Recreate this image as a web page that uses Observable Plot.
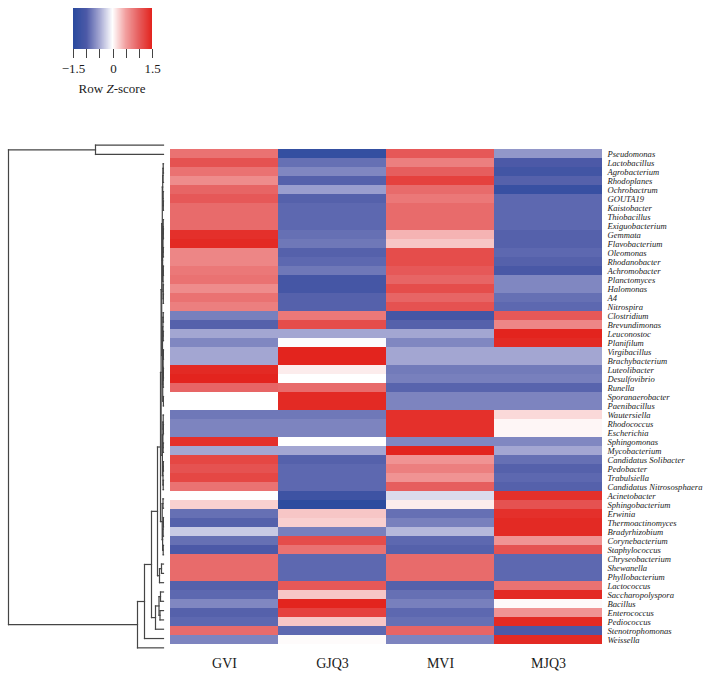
<!DOCTYPE html>
<html><head><meta charset="utf-8">
<script src="https://cdn.jsdelivr.net/npm/d3@7"></script>
<script src="https://cdn.jsdelivr.net/npm/@observablehq/plot@0.6"></script>
<style>
body{margin:0;background:#fff;}
#wrap{position:relative;width:704px;height:678px;overflow:hidden;font-family:"Liberation Serif","Times New Roman",serif;color:#1a1a1a;}
#wrap > svg{position:absolute;left:0;top:0;}
#wrap svg text{font-family:"Liberation Serif","Times New Roman",serif;}
#zlabel{position:absolute;top:82px;left:62px;width:100px;text-align:center;font-size:13px;line-height:14px;color:#1a1a1a;}
.heat [aria-label="y-axis tick label"] text{font-style:italic;}
</style></head><body><div id="wrap"><div id="zlabel">Row <i>Z</i>-score</div></div>
<script>
const samples = ["GVI","GJQ3","MVI","MJQ3"];
const genera = ["Pseudomonas","Lactobacillus","Agrobacterium","Rhodoplanes","Ochrobactrum","GOUTA19","Kaistobacter","Thiobacillus","Exiguobacterium","Gemmata","Flavobacterium","Oleomonas","Rhodanobacter","Achromobacter","Planctomyces","Halomonas","A4","Nitrospira","Clostridium","Brevundimonas","Leuconostoc","Planifilum","Virgibacillus","Brachybacterium","Luteolibacter","Desulfovibrio","Runella","Sporanaerobacter","Paenibacillus","Wautersiella","Rhodococcus","Escherichia","Sphingomonas","Mycobacterium","Candidatus Solibacter","Pedobacter","Trabulsiella","Candidatus Nitrososphaera","Acinetobacter","Sphingobacterium","Erwinia","Thermoactinomyces","Bradyrhizobium","Corynebacterium","Staphylococcus","Chryseobacterium","Shewanella","Phyllobacterium","Lactococcus","Saccharopolyspora","Bacillus","Enterococcus","Pediococcus","Stenotrophomonas","Weissella"];
const GVI  = [0.85,1.1,0.85,0.65,0.95,1.05,0.9,0.9,0.9,1.4,1.45,0.7,0.7,0.8,0.85,0.65,0.85,0.75,-0.75,-0.95,-0.5,-0.7,-0.5,-0.5,1.45,1.5,0.95,0.0,0.0,-0.8,-0.72,-0.72,1.4,-0.5,1.2,1.1,1.2,0.85,0.0,0.25,-0.85,-0.95,-0.3,-0.85,-1.0,0.9,0.9,0.9,-0.95,-0.9,-0.7,-0.95,-0.9,0.9,-0.72];
const GJQ3 = [-1.35,-0.85,-0.7,-0.95,-0.55,-0.95,-0.9,-0.9,-0.9,-0.85,-0.8,-0.95,-0.9,-0.8,-1.1,-1.1,-0.95,-0.95,0.8,1.15,-0.5,-0.02,1.5,1.5,0.1,0.0,0.9,1.45,1.45,-0.8,-0.72,-0.72,0.0,-0.5,-0.95,-0.9,-0.9,-0.9,-1.2,-1.45,0.3,0.25,-0.75,1.15,0.85,-0.9,-0.9,-0.9,1.05,0.3,1.5,1.25,0.3,-0.9,0.02];
const MVI  = [1.05,0.75,1.0,1.25,0.9,0.8,0.9,0.9,0.9,0.4,0.3,1.15,1.15,1.05,0.95,1.15,0.95,1.1,-1.1,-0.95,-0.5,-0.7,-0.5,-0.5,-0.78,-0.75,-0.93,-0.72,-0.72,1.4,1.4,1.4,-0.7,1.5,0.6,0.75,0.6,1.0,-0.2,0.1,-0.85,-0.75,-0.4,-0.9,-0.95,0.9,0.9,0.9,-0.95,-0.85,-0.75,-0.9,-0.85,0.95,-0.72];
const MJQ3 = [-0.6,-1.0,-1.15,-0.95,-1.3,-0.9,-0.9,-0.9,-0.9,-0.95,-0.95,-0.9,-0.95,-1.05,-0.7,-0.7,-0.85,-0.9,1.05,0.7,1.5,1.45,-0.5,-0.5,-0.78,-0.75,-0.93,-0.72,-0.72,0.2,0.05,0.05,-0.7,-0.5,-0.85,-0.95,-0.9,-0.95,1.4,1.1,1.4,1.45,1.45,0.6,1.1,-0.9,-0.9,-0.9,0.85,1.45,0.03,0.6,1.45,-1.0,1.45];
const zStops  = [-1.5,-1,-0.5,0,0.5,1,1.5];
const zColors = ["#2a4a9e","#4c59a7","#a3a6d2","#ffffff","#f2a0a0","#e65e5e","#e3241e"];
const legendTicks  = [-1.5,-1,-0.5,0,0.5,1,1.5];
const legendLabels = [-1.5,0,1.5];
// Row dendrogram: [merge height, left, right]
const tree =
[155,
  [68,"Pseudomonas","Lactobacillus"],
  [26,
    [19,
      [12,
        [6,
          [3,
            [2.4,
              [1.8,
                [1.2,
                  [0.8,[0.5,[0.3,"Agrobacterium","Rhodoplanes"],"Ochrobactrum"],[0.4,"GOUTA19",[0.2,"Kaistobacter","Thiobacillus"]]],
                  [0.9,[0.6,[0.3,"Exiguobacterium",[0.2,"Gemmata","Flavobacterium"]],[0.3,"Oleomonas","Rhodanobacter"]],[0.5,[0.2,"Achromobacter","Planctomyces"],[0.3,"Halomonas",[0.2,"A4","Nitrospira"]]]]
                ],
                [1.0,[0.6,[0.3,"Clostridium","Brevundimonas"],[0.3,"Leuconostoc","Planifilum"]],[0.8,[0.4,[0.1,"Virgibacillus","Brachybacterium"],[0.4,[0.1,"Luteolibacter","Desulfovibrio"],"Runella"]],[0.1,"Sporanaerobacter","Paenibacillus"]]]
              ],
              [1.1,[0.6,[0.3,"Wautersiella",[0.1,"Rhodococcus","Escherichia"]],[0.4,"Sphingomonas","Mycobacterium"]],[0.5,[0.2,"Candidatus Solibacter","Pedobacter"],[0.3,"Trabulsiella","Candidatus Nitrososphaera"]]]
            ],
            [1.3,[0.5,"Acinetobacter","Sphingobacterium"],[0.9,[0.4,[0.1,"Erwinia","Thermoactinomyces"],"Bradyrhizobium"],[0.3,"Corynebacterium","Staphylococcus"]]]
          ],
          [4,[2,"Chryseobacterium","Shewanella"],"Phyllobacterium"]
        ],
        [8,[4.5,[3,"Lactococcus","Saccharopolyspora"],[3.5,"Bacillus","Enterococcus"]],"Pediococcus"]
      ],
      "Stenotrophomonas"
    ],
    "Weissella"
  ]
];

const series = [GVI, GJQ3, MVI, MJQ3];
const cells = genera.flatMap((g, i) => samples.map((s, j) => ({genus: g, sample: s, z: series[j][i]})));
const colorScale = {type: "linear", domain: zStops, range: zColors, interpolate: "rgb", clamp: true};
const wrap = document.getElementById("wrap");
const serif = '"Liberation Serif", "Times New Roman", serif';

// dendrogram segments from the tree
const segs = [];
function walk(node) {
  if (typeof node === "string") return {h: 0, y: genera.indexOf(node) + 0.5};
  const [h, a, b] = node;
  const A = walk(a), B = walk(b);
  segs.push({x1: h, y1: A.y, x2: h, y2: B.y});
  segs.push({x1: h, y1: A.y, x2: A.h, y2: A.y});
  segs.push({x1: h, y1: B.y, x2: B.h, y2: B.y});
  return {h, y: (A.y + B.y) / 2};
}
walk(tree);

const dendro = Plot.plot({
  width: 170, height: 678,
  x: {domain: [155, 0], range: [8, 163], axis: null},
  y: {domain: [0, genera.length], range: [140, 652], axis: null},
  marks: [
    Plot.link(segs, {x1: "x1", y1: "y1", x2: "x2", y2: "y2", stroke: "#454545", strokeWidth: 1.2, strokeLinecap: "square"})
  ]
});
wrap.appendChild(dendro);

const heat = Plot.plot({
  className: "heat",
  width: 704, height: 678,
  marginLeft: 170, marginRight: 102, marginTop: 140, marginBottom: 26,
  style: {fontFamily: serif, color: "#1a1a1a", background: "transparent"},
  x: {domain: samples, padding: 0},
  y: {domain: genera, padding: 0},
  color: colorScale,
  marks: [
    Plot.cell(cells, {x: "sample", y: "genus", fill: "z", inset: 0}),
    Plot.axisY({anchor: "right", tickSize: 0, tickPadding: 5, fontSize: 8.6, fontStyle: "italic", fontFamily: serif, label: null}),
    Plot.axisX({anchor: "bottom", tickSize: 0, tickPadding: 6, fontSize: 14, fontFamily: serif, label: null})
  ]
});
wrap.appendChild(heat);

const leg = Plot.legend({
  color: colorScale,
  width: 170, height: 80,
  marginLeft: 73, marginRight: 18, marginTop: 8, marginBottom: 31,
  tickSize: 9,
  ticks: legendTicks,
  tickFormat: d => legendLabels.includes(d) ? (d < 0 ? "\u2212" + Math.abs(d) : String(d)) : "",
  label: null,
  style: {fontFamily: serif, fontSize: "13px", color: "#1a1a1a", background: "transparent"}
});
d3.select(leg).selectAll(".tick line").attr("y1", 0).attr("y2", 9).attr("stroke", "#444");
d3.select(leg).selectAll(".tick text").attr("y", 15);
wrap.appendChild(leg);
</script>
</body></html>
